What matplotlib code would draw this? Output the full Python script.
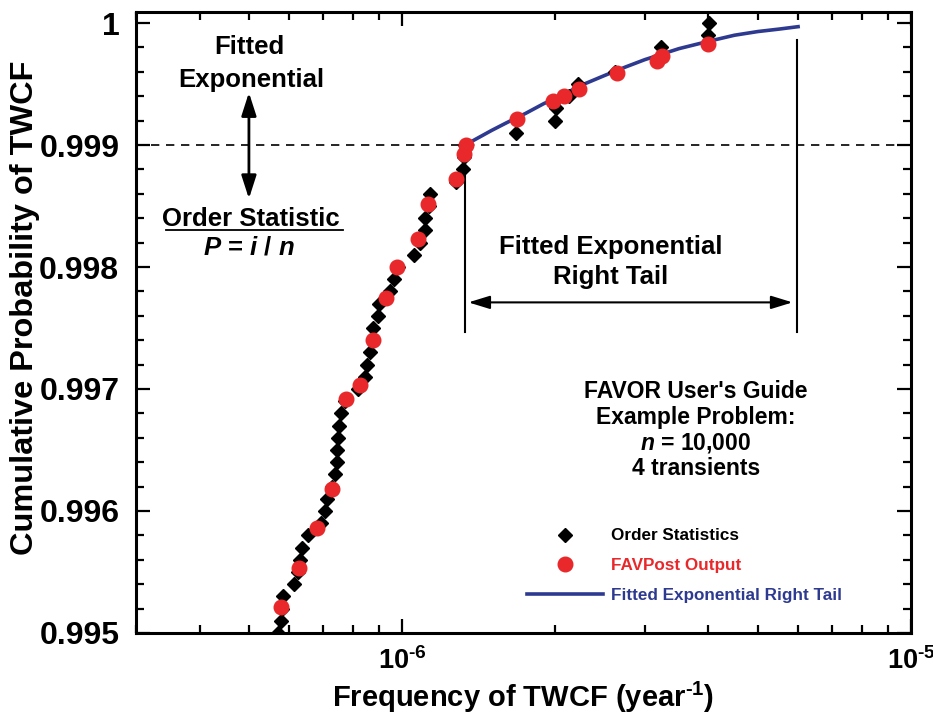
import numpy as np
import matplotlib
matplotlib.use("Agg")
import matplotlib.pyplot as plt
from matplotlib.ticker import MultipleLocator, FuncFormatter, LogLocator, NullFormatter

plt.rcParams['font.family'] = ['Liberation Sans', 'DejaVu Sans']
plt.rcParams['font.weight'] = 'bold'
plt.rcParams['mathtext.fontset'] = 'custom'
plt.rcParams['mathtext.rm'] = 'Liberation Sans:bold'
plt.rcParams['mathtext.bf'] = 'Liberation Sans:bold'
plt.rcParams['mathtext.it'] = 'Liberation Sans:italic:bold'

# Order statistics, P = i / n  (n = 10,000), x in units of 1e-6 /year
order_p = [0.9950, 0.9951, 0.9952, 0.9953, 0.9954, 0.9955, 0.9956, 0.9957, 0.9958, 0.9959,
           0.9960, 0.9961, 0.9962, 0.9963, 0.9964, 0.9965, 0.9966, 0.9967, 0.9968, 0.9969,
           0.9970, 0.9971, 0.9972, 0.9973, 0.9974, 0.9975, 0.9976, 0.9977, 0.9978, 0.9979,
           0.9980, 0.9981, 0.9982, 0.9983, 0.9984, 0.9985, 0.9986, 0.9987, 0.9988, 0.9989,
           0.9990, 0.9991, 0.9992, 0.9993, 0.9994, 0.9995, 0.9996, 0.9997, 0.9998, 0.9999,
           1.0000]
order_x = [0.571, 0.578, 0.581, 0.584, 0.614, 0.625, 0.630, 0.636, 0.654, 0.693,
           0.706, 0.712, 0.729, 0.739, 0.745, 0.746, 0.749, 0.752, 0.759, 0.773,
           0.820, 0.846, 0.854, 0.865, 0.877, 0.878, 0.897, 0.901, 0.947, 0.965,
           0.982, 1.056, 1.085, 1.110, 1.111, 1.130, 1.135, 1.277, 1.318, 1.324,
           1.330, 1.675, 1.998, 2.007, 2.129, 2.217, 2.621, 3.199, 3.228, 3.992,
           4.010]

# FAVPost output
favpost_x = [0.577, 0.628, 0.681, 0.727, 0.776, 0.828, 0.877, 0.930, 0.978, 1.075,
             1.125, 1.277, 1.324, 1.336, 1.682, 1.983, 2.084, 2.230, 2.641, 3.170,
             3.242, 3.986]
favpost_p = [0.99521, 0.99553, 0.99586, 0.99618, 0.99692, 0.99703, 0.99740, 0.99775, 0.99800, 0.99823,
             0.99852, 0.99872, 0.99893, 0.99900, 0.99921, 0.99936, 0.99940, 0.99946, 0.99959, 0.99969,
             0.99973, 0.99983]

# Fitted exponential right tail
tail_x = [1.33, 1.5, 1.6, 1.75, 1.9, 2.0, 2.25, 2.5, 2.75, 3.0, 3.5, 4.0, 4.5, 5.0, 5.5, 6.0]
tail_p = [0.99900, 0.99912, 0.99918, 0.99926, 0.99934, 0.99938, 0.99949, 0.99957, 0.99964, 0.99970,
          0.99979, 0.99985, 0.99990, 0.99993, 0.99995, 0.99997]

red = '#e8282a'
blue = '#2e3a8f'

fig = plt.figure(figsize=(9.33, 7.15), dpi=100)
ax = fig.add_axes([0.1458, 0.1147, 0.8306, 0.8692])

ax.plot(np.array(tail_x) * 1e-6, tail_p, color=blue, lw=2.6, zorder=3,
        label='Fitted Exponential Right Tail')
ax.plot(np.array(order_x) * 1e-6, order_p, 'D', color='black', ms=7.5, mec='black',
        ls='none', zorder=4, label='Order Statistics')
ax.plot(np.array(favpost_x) * 1e-6, favpost_p, 'o', color=red, ms=10.5, mec=red,
        ls='none', zorder=5, label='FAVPost Output')

ax.set_xscale('log')
ax.set_xlim(3e-7, 1e-5)
ax.set_ylim(0.995, 1.0000943)

ax.yaxis.set_major_locator(MultipleLocator(0.001))
ax.yaxis.set_minor_locator(MultipleLocator(0.0002))
ax.yaxis.set_major_formatter(FuncFormatter(lambda v, p: '1' if abs(v - 1) < 1e-9 else f'{v:.3f}'))
ax.xaxis.set_major_locator(LogLocator(base=10, numticks=10))
ax.xaxis.set_minor_locator(LogLocator(base=10, subs=np.arange(2, 10), numticks=10))
ax.xaxis.set_minor_formatter(NullFormatter())
ax.xaxis.set_major_formatter(FuncFormatter(lambda v, p: r'$10^{\text{-}%d}$' % abs(round(np.log10(v)))))

ax.tick_params(which='both', direction='in', top=True, right=True, width=1.6)
ax.tick_params(which='major', length=10)
ax.tick_params(which='minor', length=6)
ax.tick_params(axis='x', which='major', pad=10, labelsize=19.5)
ax.tick_params(axis='y', which='major', pad=12, labelsize=23)
for s in ax.spines.values():
    s.set_linewidth(2.2)

ax.set_xlabel(r'Frequency of TWCF (year$^{\text{-}1}$)', fontsize=21, fontweight='bold', labelpad=4)
ax.set_ylabel('Cumulative Probability of TWCF', fontsize=23.4, fontweight='bold')
ax.yaxis.set_label_coords(-0.124, 0.523)

# reference line at 0.999
ax.axhline(0.999, color='black', lw=1.2, ls=(0, (5, 4)), zorder=1)

# tail region markers
ax.plot([1.33e-6, 1.33e-6], [0.999, 0.99747], color='black', lw=1.5, zorder=2)
ax.plot([5.97e-6, 5.97e-6], [0.99986, 0.99747], color='black', lw=1.5, zorder=2)
ax.annotate('', xy=(1.35e-6, 0.99771), xytext=(5.85e-6, 0.99771),
            arrowprops=dict(arrowstyle='<|-|>,head_length=1.3,head_width=0.4',
                            color='black', lw=1.5, shrinkA=0, shrinkB=0))
ax.text(2.57e-6, 0.99816, 'Fitted Exponential', ha='center', va='center', fontsize=18.5)
ax.text(2.57e-6, 0.99792, 'Right Tail', ha='center', va='center', fontsize=18.5)

# left annotation
ax.annotate('', xy=(5.0e-7, 0.99943), xytext=(5.0e-7, 0.99856),
            arrowprops=dict(arrowstyle='<|-|>,head_length=1.4,head_width=0.45',
                            color='black', lw=2, shrinkA=0, shrinkB=0))
ax.text(5.0e-7, 0.99980, 'Fitted', ha='center', va='center', fontsize=18.5)
ax.text(5.05e-7, 0.99953, 'Exponential', ha='center', va='center', fontsize=18.5)
ax.text(5.05e-7, 0.99839, 'Order Statistic', ha='center', va='center', fontsize=18.5)
ax.plot([3.44e-7, 7.66e-7], [0.99830, 0.99830], color='black', lw=1.3)
ax.text(5.0e-7, 0.99816, r'$P$ = $i$ / $n$', ha='center', va='center', fontsize=18.5)

# example problem text
ax.text(3.78e-6, 0.99698, "FAVOR User's Guide", ha='center', va='center', fontsize=16.5)
ax.text(3.78e-6, 0.99677, 'Example Problem:', ha='center', va='center', fontsize=16.5)
ax.text(3.78e-6, 0.99656, r'$n$ = 10,000', ha='center', va='center', fontsize=16.5)
ax.text(3.78e-6, 0.99635, '4 transients', ha='center', va='center', fontsize=16.5)

handles, labels = ax.get_legend_handles_labels()
order = [1, 2, 0]
leg = ax.legend([handles[i] for i in order], [labels[i] for i in order],
                loc='lower left', bbox_to_anchor=(0.505, 0.049), frameon=False,
                fontsize=12.3, numpoints=1, handlelength=4.4, handletextpad=0.5,
                labelspacing=0.85, borderpad=0, borderaxespad=0,
                labelcolor=['black', red, blue])

fig.savefig('out.png', dpi=100)
